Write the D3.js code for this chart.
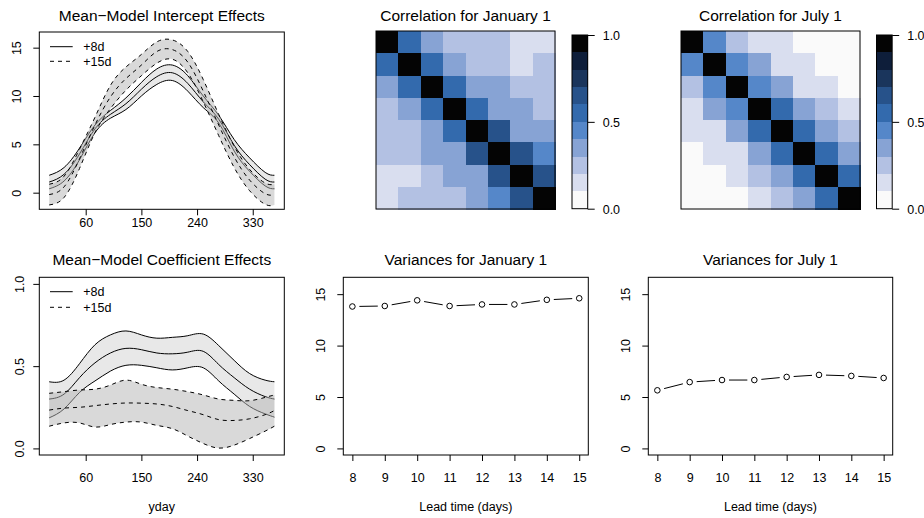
<!DOCTYPE html>
<html><head><meta charset="utf-8">
<script src="https://cdn.jsdelivr.net/npm/d3@7"></script>
<style>
body{margin:0;background:#fff}
svg{display:block;background:#fff}
text{font-family:"Liberation Sans",Arial,Helvetica,sans-serif;fill:#000}
</style>
</head><body>
<svg id="c" width="924" height="518"></svg>
<script>
// ---------------- DATA ----------------
const days = [1,25,50,75,100,125,150,175,200,225,250,275,300,325,350,365];
// Intercept effects (top-left)
const int8Mid  = [1.1,1.9,4.0,6.6,8.1,9.2,10.7,12.0,12.4,11.3,9.4,7.6,4.9,2.9,1.4,1.1];
const int8Hi   = [1.8,2.6,4.6,7.0,8.5,9.8,11.4,12.8,13.2,12.1,10.0,8.0,5.5,3.6,2.1,1.8];
const int8Lo   = [0.4,1.2,3.4,6.2,7.7,8.6,10.0,11.2,11.6,10.5,8.8,7.2,4.3,2.2,0.7,0.4];
const int15Mid = [-0.2,0.6,3.5,7.0,9.9,11.8,13.2,14.6,14.8,13.5,10.5,7.0,3.7,1.3,-0.1,-0.2];
const int15Hi  = [0.87,1.7,4.5,7.8,11.1,13.0,14.3,15.6,15.8,14.6,11.7,8.1,4.8,2.4,1.0,0.87];
const int15Lo  = [-1.27,-0.5,2.5,6.2,8.7,10.6,12.1,13.4,13.8,12.4,9.4,5.9,2.6,0.2,-1.2,-1.27];
// Coefficient effects (bottom-left)
const coef8Mid  = [0.30,0.33,0.43,0.52,0.58,0.608,0.60,0.58,0.575,0.585,0.59,0.51,0.43,0.36,0.315,0.30];
const coef8Hi   = [0.405,0.415,0.515,0.63,0.69,0.714,0.69,0.67,0.675,0.685,0.695,0.625,0.535,0.455,0.415,0.405];
const coef8Lo   = [0.186,0.24,0.34,0.41,0.47,0.505,0.505,0.49,0.477,0.49,0.49,0.41,0.33,0.255,0.21,0.19];
const coef15Mid = [0.233,0.245,0.25,0.26,0.27,0.276,0.275,0.27,0.255,0.23,0.205,0.175,0.17,0.18,0.205,0.23];
const coef15Hi  = [0.335,0.345,0.355,0.36,0.385,0.415,0.39,0.37,0.36,0.345,0.325,0.30,0.292,0.29,0.31,0.325];
const coef15Lo  = [0.135,0.155,0.155,0.13,0.145,0.16,0.16,0.14,0.12,0.075,0.03,0.002,0.02,0.06,0.105,0.135];
// Variances
const leads  = [8,9,10,11,12,13,14,15];
const varJan = [13.8,13.85,14.4,13.85,14.0,14.0,14.45,14.6];
const varJul = [5.65,6.45,6.65,6.65,6.95,7.15,7.05,6.85];
// Correlation matrices
const corrJan = [
 [1.00,0.55,0.35,0.25,0.25,0.25,0.15,0.15],
 [0.55,1.00,0.55,0.35,0.25,0.25,0.15,0.25],
 [0.35,0.55,1.00,0.55,0.35,0.35,0.25,0.25],
 [0.25,0.35,0.55,1.00,0.55,0.35,0.35,0.25],
 [0.25,0.25,0.35,0.55,1.00,0.65,0.35,0.35],
 [0.25,0.25,0.35,0.35,0.65,1.00,0.65,0.45],
 [0.15,0.15,0.25,0.35,0.35,0.65,1.00,0.65],
 [0.15,0.25,0.25,0.25,0.35,0.45,0.65,1.00]];
const corrJul = [
 [1.00,0.45,0.25,0.15,0.15,0.05,0.05,0.05],
 [0.45,1.00,0.45,0.35,0.15,0.15,0.05,0.05],
 [0.25,0.45,1.00,0.45,0.35,0.15,0.15,0.05],
 [0.15,0.35,0.45,1.00,0.55,0.35,0.25,0.15],
 [0.15,0.15,0.35,0.55,1.00,0.55,0.35,0.25],
 [0.05,0.15,0.15,0.35,0.55,1.00,0.55,0.35],
 [0.05,0.05,0.15,0.25,0.35,0.55,1.00,0.55],
 [0.05,0.05,0.05,0.15,0.25,0.35,0.55,1.00]];
const corrBreaks = [0.1,0.2,0.3,0.4,0.5,0.6,0.7,0.8,0.9];
const corrColors = ["#fafafa","#d9deef","#b3c1e3","#87a3d4","#5587c9","#336aad","#27528a","#1a355c","#0e1e3a","#040404"];
const corrTicks = [0,0.5,1];
const ydayTicks = [60,150,240,330];
const intTicks = [0,5,10,15];
const coefTicks = [0,0.5,1];
const varTicks = [0,5,10,15];
const legendLabels = ["+8d","+15d"];

// ---------------- HELPERS ----------------
const svg = d3.select("#c");
const FS = 12.5;
const TFS = 15.5;
const fill8 = "rgba(190,190,190,0.35)";
const fill15 = "rgba(180,180,180,0.5)";

function title(txt, cx, cy){
  svg.append("text").attr("x",cx).attr("y",cy).attr("text-anchor","middle")
    .attr("dy","0.35em").attr("font-size",TFS).text(txt);
}
function box(x0,y0,x1,y1){
  svg.append("rect").attr("x",x0).attr("y",y0).attr("width",x1-x0).attr("height",y1-y0)
    .attr("fill","none").attr("stroke","#000").attr("stroke-width",1);
}
function xAxis(scale, ticks, yPos, labelGap, fmt){
  const g = svg.append("g").attr("transform",`translate(0,${yPos})`)
    .call(d3.axisBottom(scale).tickValues(ticks).tickSize(6).tickSizeOuter(0).tickFormat(fmt||d3.format("d")));
  g.select(".domain").remove();
  g.selectAll(".tick line").attr("stroke","#000");
  g.selectAll(".tick text").attr("y",labelGap).attr("dy","0.35em").attr("font-size",FS)
    .attr("font-family","Liberation Sans, Arial, sans-serif").attr("fill","#000");
}
function yAxis(scale, ticks, xPos, labelGap, fmt){
  const g = svg.append("g").attr("transform",`translate(${xPos},0)`)
    .call(d3.axisLeft(scale).tickValues(ticks).tickSize(6).tickSizeOuter(0).tickFormat(fmt||d3.format("d")));
  g.select(".domain").remove();
  g.selectAll(".tick line").attr("stroke","#000");
  g.selectAll(".tick text").attr("x",null).attr("dy","0.35em").attr("text-anchor","middle")
    .attr("transform",`translate(${-labelGap},0) rotate(-90)`).attr("font-size",FS)
    .attr("font-family","Liberation Sans, Arial, sans-serif").attr("fill","#000");
}
function legend(x0,x1,tx,y1,y2){
  [[y1,null,legendLabels[0]],[y2,"4,4",legendLabels[1]]].forEach(([y,da,lab])=>{
    svg.append("line").attr("x1",x0).attr("x2",x1).attr("y1",y).attr("y2",y)
      .attr("stroke","#000").attr("stroke-width",1).attr("stroke-dasharray",da);
    svg.append("text").attr("x",tx).attr("y",y).attr("dy","0.35em").attr("font-size",FS).text(lab);
  });
}
function bandPanel(x, y, lo8, mid8, hi8, lo15, mid15, hi15, clipId){
  svg.append("clipPath").attr("id",clipId).append("rect")
    .attr("x",x.range()[0]).attr("y",y.range()[1])
    .attr("width",x.range()[1]-x.range()[0]).attr("height",y.range()[0]-y.range()[1]);
  const g = svg.append("g").attr("clip-path",`url(#${clipId})`);
  const curve = d3.curveNatural;
  const area = (lo,hi)=>d3.area().x((d,i)=>x(days[i])).y0((d,i)=>y(lo[i])).y1((d,i)=>y(hi[i])).curve(curve)(days);
  const line = arr=>d3.line().x((d,i)=>x(days[i])).y((d,i)=>y(arr[i])).curve(curve)(days);
  g.append("path").attr("d",area(lo8,hi8)).attr("fill",fill8).attr("stroke","none");
  [lo8,mid8,hi8].forEach(a=>g.append("path").attr("d",line(a)).attr("fill","none").attr("stroke","#000").attr("stroke-width",1));
  g.append("path").attr("d",area(lo15,hi15)).attr("fill",fill15).attr("stroke","none");
  [lo15,mid15,hi15].forEach(a=>g.append("path").attr("d",line(a)).attr("fill","none").attr("stroke","#000").attr("stroke-width",1).attr("stroke-dasharray","4,4"));
}
function heatmap(mat, x0,x1,y0,y1, cb0,cb1,cbTop,cbBot){
  const idx = d3.range(mat.length);
  const xb = d3.scaleBand().domain(idx).range([x0,x1]);
  const yb = d3.scaleBand().domain(idx).range([y0,y1]);
  const col = d3.scaleThreshold().domain(corrBreaks).range(corrColors);
  mat.forEach((row,r)=>row.forEach((v,c)=>{
    svg.append("rect").attr("x",xb(c)).attr("y",yb(r)).attr("width",xb.bandwidth()+0.5).attr("height",yb.bandwidth()+0.5)
      .attr("fill",col(v)).attr("shape-rendering","crispEdges");
  }));
  box(x0,y0,x1,y1);
  const cy = d3.scaleLinear().domain([0,1]).range([cbBot,cbTop]);
  const edges = [0].concat(corrBreaks,[1]);
  corrColors.forEach((c,i)=>{
    svg.append("rect").attr("x",cb0).attr("width",cb1-cb0).attr("y",cy(edges[i+1])).attr("height",cy(edges[i])-cy(edges[i+1]))
      .attr("fill",c).attr("shape-rendering","crispEdges");
  });
  box(cb0,cbTop,cb1,cbBot);
  const g = svg.append("g").attr("transform",`translate(${cb1},0)`)
    .call(d3.axisRight(cy).tickValues(corrTicks).tickSize(7).tickSizeOuter(0).tickFormat(d3.format(".1f")));
  g.select(".domain").remove();
  g.selectAll(".tick line").attr("stroke","#000");
  g.selectAll(".tick text").attr("x",15).attr("dy","0.35em").attr("font-size",FS)
    .attr("font-family","Liberation Sans, Arial, sans-serif").attr("fill","#000");
}
function varPanel(vals, x0,x1, tit){
  const x = d3.scaleLinear().domain([7.72,15.28]).range([x0,x1]);
  const y = d3.scaleLinear().domain([-0.64,16.64]).range([455,277.3]);
  const pts = leads.map((l,i)=>[x(l),y(vals[i])]);
  const gap = 7;
  for(let i=0;i<pts.length-1;i++){
    const [ax,ay]=pts[i],[bx,by]=pts[i+1];
    const L = Math.hypot(bx-ax,by-ay); const ux=(bx-ax)/L, uy=(by-ay)/L;
    svg.append("line").attr("x1",ax+ux*gap).attr("y1",ay+uy*gap).attr("x2",bx-ux*gap).attr("y2",by-uy*gap)
      .attr("stroke","#000").attr("stroke-width",1);
  }
  svg.selectAll(null).data(pts).enter().append("circle").attr("cx",d=>d[0]).attr("cy",d=>d[1]).attr("r",2.8)
    .attr("fill","none").attr("stroke","#000").attr("stroke-width",1);
  box(x0,277.3,x1,455);
  xAxis(x, leads, 455, 23);
  yAxis(y, varTicks, x0, 22.8);
  title(tit, (x0+x1)/2, 260);
  svg.append("text").attr("x",(x0+x1)/2).attr("y",506.7).attr("dy","0.35em").attr("text-anchor","middle")
    .attr("font-size",FS).text("Lead time (days)");
}

// ---------------- PANEL 1: intercept ----------------
{
  const x = d3.scaleLinear().domain([-15,381]).range([39.3,284.3]);
  const y = d3.scaleLinear().domain([-1.72,16.62]).range([209.3,32]);
  bandPanel(x,y,int8Lo,int8Mid,int8Hi,int15Lo,int15Mid,int15Hi,"clip1");
  box(39.3,32,284.3,209.3);
  xAxis(x, ydayTicks, 209.3, 13);
  yAxis(y, intTicks, 39.3, 22.6);
  legend(50,72.7,83.3,46.7,61.3);
  title("Mean\u2212Model Intercept Effects", 161.8, 15.7);
}
// ---------------- PANEL 4: coefficient ----------------
{
  const x = d3.scaleLinear().domain([-15,381]).range([39.3,284.3]);
  const y = d3.scaleLinear().domain([-0.04,1.04]).range([455,277.3]);
  bandPanel(x,y,coef8Lo,coef8Mid,coef8Hi,coef15Lo,coef15Mid,coef15Hi,"clip4");
  box(39.3,277.3,284.3,455);
  xAxis(x, ydayTicks, 455, 23);
  yAxis(y, coefTicks, 39.3, 19.8, d3.format(".1f"));
  legend(50,72.7,83.3,291.7,307.3);
  title("Mean\u2212Model Coefficient Effects", 161.8, 260);
  svg.append("text").attr("x",161.8).attr("y",506.7).attr("dy","0.35em").attr("text-anchor","middle")
    .attr("font-size",FS).text("yday");
}
// ---------------- heatmaps ----------------
heatmap(corrJan, 376,555,31,209, 572,587.7,35,208.7);
title("Correlation for January 1", 465.5, 15.7);
heatmap(corrJul, 681,860,31,209, 876.5,892.2,35,208.7);
title("Correlation for July 1", 770.5, 15.7);
// ---------------- variances ----------------
varPanel(varJan, 343.3, 588.3, "Variances for January 1");
varPanel(varJul, 648.3, 892.7, "Variances for July 1");
</script>
</body></html>
